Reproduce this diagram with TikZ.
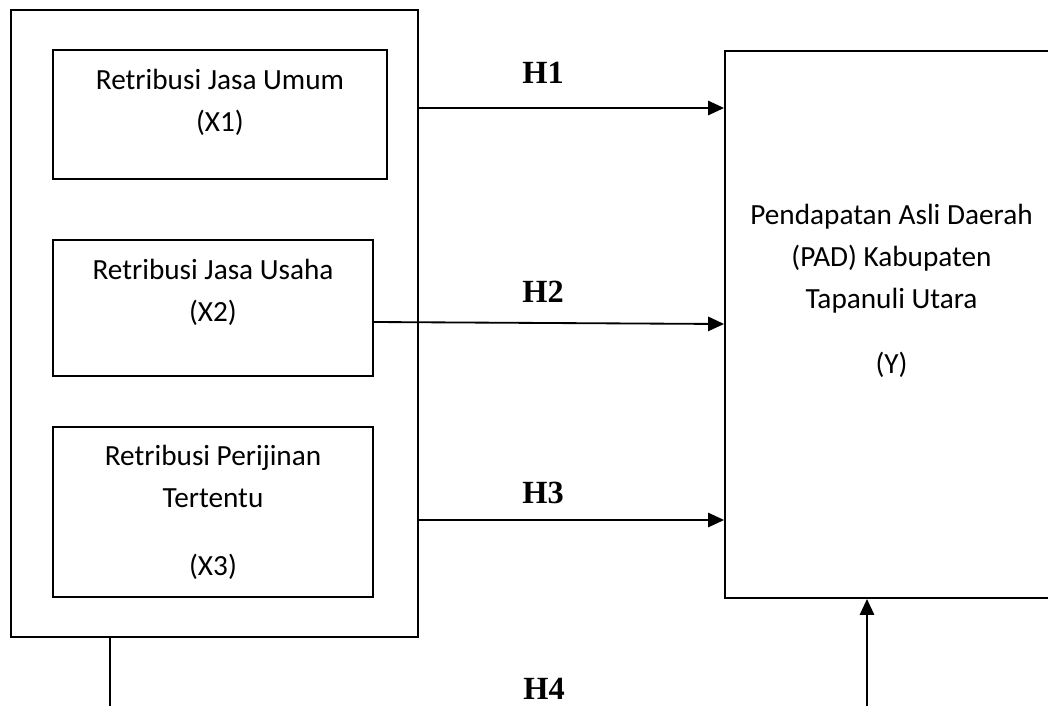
\documentclass[tikz,border=0pt]{standalone}
\usepackage{fontspec}
\setmainfont{Carlito}
\newfontfamily\hfont{Liberation Serif}
\usetikzlibrary{arrows.meta}

\begin{document}
\begin{tikzpicture}[x=0.025cm, y=-0.025cm, line width=1.3pt,
  box/.style={draw, inner sep=0pt},
  txt/.style={align=center, anchor=base, inner sep=0pt, font=\fontsize{20.8}{29.8}\selectfont},
  hyp/.style={anchor=base, inner sep=0pt, font=\hfont\bfseries\fontsize{23}{23}\selectfont},
  arr/.style={-{Triangle[length=4mm,width=3.6mm]}}]
\useasboundingbox (0,0) rectangle (1048,706);
\clip (0,0) rectangle (1048,706);
\node[box, minimum width=10.175cm, minimum height=15.675cm] (luar) at (214.5,323.5) {};
\node[box, minimum width=8.35cm, minimum height=3.225cm] (x1) at (220,114.5) {};
\node[box, minimum width=8cm, minimum height=3.4cm] (x2) at (213,308) {};
\node[box, minimum width=8cm, minimum height=4.25cm] (x3) at (213,512) {};
\node[box, minimum width=8.325cm, minimum height=13.675cm] (pad) at (891.5,324.5) {};
\node[txt] (tx1) at (220,131) {Retribusi Jasa Umum\\(X1)};
\node[txt] (tx2) at (213,321) {Retribusi Jasa Usaha\\(X2)};
\node[txt] (tx3) at (213,575) {Retribusi Perijinan\\Tertentu\\[0.65cm](X3)};
\node[txt] (ty) at (891.5,373) {Pendapatan Asli Daerah\\(PAD) Kabupaten\\Tapanuli Utara\\[0.575cm](Y)};
\node[hyp] (h1) at (543,83) {H1};
\node[hyp] (h2) at (543,302) {H2};
\node[hyp] (h3) at (543,503) {H3};
\node[hyp] (h4) at (544,699) {H4};
\coordinate (a1) at (0,108);
\coordinate (a2) at (0,322);
\coordinate (b2) at (0,324);
\coordinate (a3) at (0,520);
\coordinate (turun) at (110,706);
\coordinate (naik) at (867,706);
\draw[arr] (luar.east |- a1) -- (pad.west |- a1);
\draw[arr] (x2.east |- a2) -- (pad.west |- b2);
\draw[arr] (luar.east |- a3) -- (pad.west |- a3);
\draw (luar.south -| turun) -- (turun);
\draw[arr] (naik) -- (pad.south -| naik);
\end{tikzpicture}
\end{document}
